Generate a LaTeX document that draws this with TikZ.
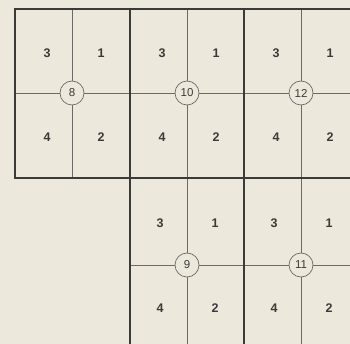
\documentclass[tikz,border=0pt]{standalone}
\usepackage{fontspec}
\setmainfont{Liberation Sans}
\definecolor{paper}{HTML}{ECE8DC}
\definecolor{ink}{HTML}{3A3A38}
\definecolor{thin}{HTML}{6A6A66}
\tikzset{
  outer/.style={draw=ink, line width=1.3pt},
  inner/.style={draw=thin, line width=0.7pt},
  num/.style={text=ink, font=\bfseries\fontsize{12.5}{13}\selectfont, inner sep=0pt},
  corner/.style={circle, draw=thin, line width=0.7pt, fill=paper, minimum size=24pt, inner sep=0pt, text=ink, font=\fontsize{11.5}{12}\selectfont}
}
\begin{document}
\begin{tikzpicture}[x=1pt,y=-1pt]
\useasboundingbox (0,0) rectangle (350,344);
\fill[paper] (0,0) rectangle (350,344);
\clip (0,0) rectangle (350,344);
% inner lines top block
\draw[inner] (72,9) -- (72,178);
\draw[inner] (187,9) -- (187,178);
\draw[inner] (301,9) -- (301,178);
\draw[inner] (15,93) -- (360,93);
% inner lines bottom block
\draw[inner] (187,178) -- (187,350);
\draw[inner] (301,178) -- (301,350);
\draw[inner] (130,265) -- (360,265);
% outer lines
\draw[outer] (360,9) -- (15,9) -- (15,178) -- (360,178);
\draw[outer] (130,9) -- (130,350);
\draw[outer] (244,9) -- (244,350);
% circled numbers
\node[corner] (c8) at (72,93) {8};
\node[corner] (c10) at (187,93) {10};
\node[corner] (c12) at (301,93) {12};
\node[corner] (c9) at (187,265) {9};
\node[corner] (c11) at (301,265) {11};
% cell numbers top block
\foreach \x/\n in {15/a,130/b,244/c}{
  \node[num] (t3\n) at (\x+32,53) {3};
  \node[num] (t1\n) at (\x+86,53) {1};
  \node[num] (t4\n) at (\x+32,137) {4};
  \node[num] (t2\n) at (\x+86,137) {2};
}
\foreach \x/\n in {130/b,244/c}{
  \node[num] (b3\n) at (\x+30,223) {3};
  \node[num] (b1\n) at (\x+85,223) {1};
  \node[num] (b4\n) at (\x+30,308) {4};
  \node[num] (b2\n) at (\x+85,308) {2};
}
\end{tikzpicture}
\end{document}
